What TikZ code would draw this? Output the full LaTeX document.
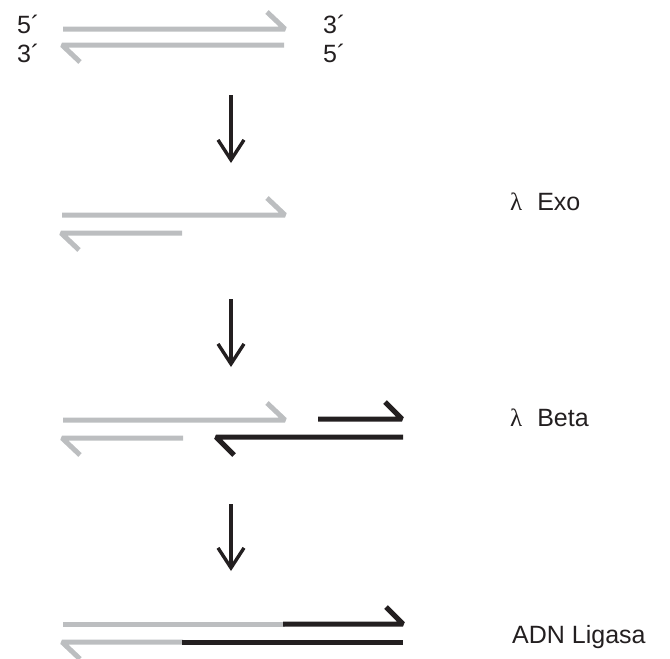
\documentclass[tikz,border=0pt]{standalone}
\usepackage{fontspec}
\setmainfont{Liberation Sans}
\newfontfamily\lamfont{Liberation Serif}
\usetikzlibrary{arrows.meta}
\definecolor{strandgray}{HTML}{BCBEC0}
\definecolor{strandblack}{HTML}{231F20}
\tikzset{
  gstrand/.style={draw=strandgray, line width=5pt, line cap=butt, line join=bevel},
  kstrand/.style={draw=strandblack, line width=5pt, line cap=butt, line join=bevel},
  steparrow/.style={draw=strandblack, line width=3.4pt,
    -{Straight Barb[length=20pt,width=26pt,line width=3.4pt]}},
  lbl/.style={anchor=base west, inner sep=0pt, font=\fontsize{25}{30}\selectfont, text=strandblack},
}
\begin{document}
\begin{tikzpicture}[x=1pt,y=-1pt]
\useasboundingbox (0,0) rectangle (670,659);
% stage 1
\draw[gstrand] (63,29) -- (285,29) -- (267,12);
\draw[gstrand] (284,45) -- (62,45) -- (80,62);
\node[lbl] (l5a) at (17,33) {5´};
\node[lbl] (l3a) at (17,62) {3´};
\node[lbl] (l3b) at (323,33) {3´};
\node[lbl] (l5b) at (323,62) {5´};
% arrow 1
\coordinate (a1s) at (231,95);
\coordinate (a1e) at (231,163);
\draw[steparrow] (a1s) -- (a1e);
% stage 2
\draw[gstrand] (62,215) -- (285,215) -- (267,198);
\draw[gstrand] (182,233) -- (61,233) -- (79,250);
\node[lbl] (exo) at (510,210) {{\lamfont λ}\hspace{0.6em}Exo};
% arrow 2
\coordinate (a2s) at (231,299);
\coordinate (a2e) at (231,367);
\draw[steparrow] (a2s) -- (a2e);
% stage 3
\draw[gstrand] (63,420) -- (285,420) -- (267,403);
\draw[gstrand] (183,438) -- (62,438) -- (80,455);
\draw[kstrand] (318,419) -- (402,419) -- (385,402);
\draw[kstrand] (403,437) -- (216,437) -- (234,455);
\node[lbl] (beta) at (510,426) {{\lamfont λ}\hspace{0.6em}Beta};
% arrow 3
\coordinate (a3s) at (231,504);
\coordinate (a3e) at (231,571);
\draw[steparrow] (a3s) -- (a3e);
% stage 4
\draw[gstrand] (63,624) -- (285,624);
\draw[kstrand] (283,624) -- (403,624) -- (386,607);
\draw[gstrand] (183,642) -- (62,642) -- (80,659);
\draw[kstrand] (182,642) -- (403,642);
\node[lbl] (lig) at (512,643) {ADN Ligasa};
\end{tikzpicture}
\end{document}
